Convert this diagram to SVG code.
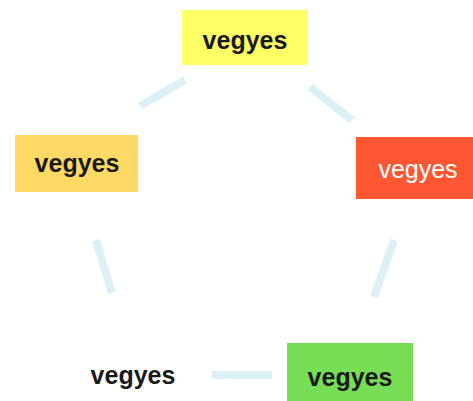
<svg xmlns="http://www.w3.org/2000/svg" width="473" height="401" viewBox="0 0 473 401">
<style>
.lbl{font-family:"Liberation Sans",Arial,sans-serif;font-size:25px;font-weight:bold;fill:#1a1a1a;text-anchor:middle;dominant-baseline:central}
.con{stroke:#dcf1f6;stroke-width:8;stroke-linecap:butt;fill:none}
</style>
<rect width="473" height="401" fill="#ffffff"/>
<g id="connectors">
<line class="con" x1="140" y1="106" x2="185" y2="80"/>
<line class="con" x1="310" y1="87" x2="352" y2="120"/>
<line class="con" x1="96" y1="240" x2="112" y2="293"/>
<line class="con" x1="394" y1="240" x2="374" y2="297"/>
<line class="con" x1="212" y1="375" x2="272" y2="375"/>
</g>
<g id="n1"><rect x="182" y="10" width="125" height="55" fill="#ffff66"/><text class="lbl" x="245" y="40">vegyes</text></g>
<g id="n2"><rect x="15" y="135" width="123" height="57" fill="#ffd966"/><text class="lbl" x="77" y="163">vegyes</text></g>
<g id="n3"><rect x="356" y="137" width="120" height="62" fill="#ff5733"/><text class="lbl" x="418" y="169" style="fill:#ffffff;font-weight:normal">vegyes</text></g>
<g id="n4"><text class="lbl" x="133" y="375">vegyes</text></g>
<g id="n5"><rect x="287" y="343" width="126" height="62" fill="#77dd55"/><text class="lbl" x="350" y="377">vegyes</text></g>
</svg>
